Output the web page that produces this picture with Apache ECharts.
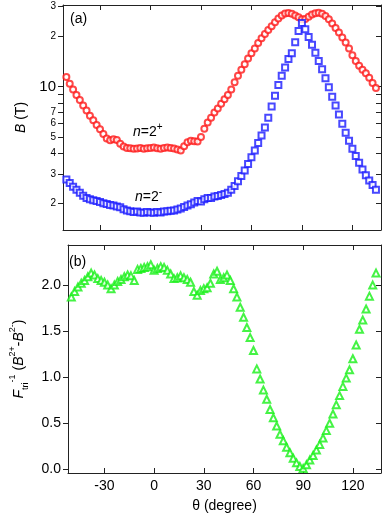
<!DOCTYPE html>
<html>
<head>
<meta charset="utf-8">
<script src="https://cdn.jsdelivr.net/npm/echarts@6/dist/echarts.min.js"></script>
<style>
  html, body { margin: 0; padding: 0; background: #fff; }
  #main { width: 382px; height: 518px; }
</style>
</head>
<body>
<div id="main"></div>
<script>
// angle (degree)
const theta = [-50, -48, -46, -44, -42, -40, -38, -36, -34, -32, -30, -28, -26, -24, -22, -20, -18, -16, -14, -12,
  -10, -8, -6, -4, -2, 0, 2, 4, 6, 8, 10, 12, 14, 16, 18, 20, 22, 24, 26, 28,
  30, 32, 34, 36, 38, 40, 42, 44, 46, 48, 50, 52, 54, 56, 58, 60, 62, 64, 66, 68,
  70, 72, 74, 76, 78, 80, 82, 84, 86, 88, 90, 92, 94, 96, 98, 100, 102, 104, 106, 108,
  110, 112, 114, 116, 118, 120, 122, 124, 126, 128, 130, 132, 134]

// n=2+ (T)
const bPlus = [11.4, 10.4, 9.6, 8.9, 8.3, 7.7, 7.2, 6.7, 6.3, 5.9, 5.55, 5.2, 4.9, 4.78, 4.85, 4.8, 4.55, 4.38, 4.3, 4.28,
  4.25, 4.27, 4.3, 4.25, 4.28, 4.3, 4.32, 4.28, 4.25, 4.3, 4.32, 4.3, 4.26, 4.2, 4.15, 4.4, 4.65, 4.75, 4.72, 4.7,
  5.0, 5.6, 6.1, 6.5, 7.0, 7.4, 7.9, 8.4, 8.9, 9.6, 10.6, 11.6, 12.6, 13.6, 14.7, 15.8, 16.9, 18.2, 19.4, 20.6,
  21.8, 22.9, 24.2, 25.5, 26.6, 27.3, 27.5, 27.2, 26.6, 25.9, 25.2, 25.3, 26.1, 26.9, 27.4, 27.6, 27.2, 26.4, 25.2, 23.8,
  22.4, 21.0, 19.6, 18.3, 16.9, 15.4, 14.2, 13.3, 12.6, 12.0, 11.3, 10.5, 9.8]

// n=2- (T)
const bMinus = [2.78, 2.65, 2.52, 2.42, 2.32, 2.23, 2.16, 2.12, 2.09, 2.07, 2.04, 2.01, 1.99, 1.96, 1.95, 1.92, 1.9, 1.85, 1.82, 1.8,
  1.78, 1.79, 1.77, 1.76, 1.78, 1.77, 1.76, 1.78, 1.77, 1.79, 1.8, 1.81, 1.82, 1.84, 1.87, 1.91, 1.95, 1.98, 2.03, 2.07,
  2.06, 2.12, 2.16, 2.16, 2.2, 2.22, 2.25, 2.28, 2.32, 2.42, 2.55, 2.72, 2.92, 3.15, 3.45, 3.78, 4.15, 4.6, 5.1, 5.7,
  6.5, 7.6, 8.8, 10.2, 11.6, 13.0, 14.6, 15.8, 18.4, 21.5, 24.0, 22.0, 19.8, 17.8, 15.9, 14.2, 12.7, 11.2, 9.9, 8.7,
  7.7, 6.8, 6.0, 5.3, 4.75, 4.25, 3.85, 3.5, 3.2, 2.95, 2.75, 2.58, 2.42]

// F_tri^-1 (B2+ - B2-)
const fTri = [1.87, 1.93, 1.98, 2.02, 2.05, 2.09, 2.13, 2.11, 2.07, 2.05, 2.03, 2.0, 1.96, 2.0, 2.04, 2.06, 2.09, 2.11, 2.1, 2.05,
  2.17, 2.18, 2.19, 2.2, 2.22, 2.16, 2.18, 2.2, 2.19, 2.16, 2.12, 2.07, 2.08, 2.1, 2.08, 2.06, 2.03, 1.93, 1.89, 1.94,
  1.96, 1.97, 2.02, 2.12, 2.15, 2.06, 2.08, 2.11, 2.05, 1.96, 1.87, 1.76, 1.65, 1.54, 1.43, 1.29, 1.09, 0.98, 0.86, 0.76,
  0.65, 0.56, 0.47, 0.38, 0.31, 0.24, 0.18, 0.12, 0.07, 0.03, 0.01, 0.05, 0.1, 0.15, 0.21, 0.27, 0.34, 0.42, 0.5, 0.6,
  0.7, 0.8, 0.9, 0.99, 1.08, 1.2, 1.35, 1.52, 1.62, 1.74, 1.88, 2.0, 2.13]

const xTicks = [-30, 0, 30, 60, 90, 120]
const bTicks = [2, 3, 4, 5, 6, 7, 8, 9, 10, 20, 30]
const bLabels = [2, 3, 4, 5, 6, 7, 10, 20, 30]
const fTicks = [0, 0.5, 1, 1.5, 2]

const font = 'Liberation Sans'
const frame = { show: true, onZero: false, lineStyle: { color: '#222', width: 1 } }

function xAxisOf(grid, position, showLabel) {
  return {
    type: 'value',
    gridIndex: grid,
    position: position,
    min: -52,
    max: 137,
    axisLine: frame,
    axisTick: { show: true, inside: true, length: 5, customValues: xTicks, lineStyle: { color: '#222' } },
    axisLabel: { show: showLabel, customValues: xTicks, margin: 6, color: '#000', fontSize: 14, fontFamily: font },
    splitLine: { show: false }
  }
}

const chart = echarts.init(document.getElementById('main'))
chart.setOption({
  animation: false,
  backgroundColor: '#fff',
  grid: [
    { left: 63, top: 5, width: 318, height: 225 },
    { left: 63, top: 245, width: 318, height: 228 }
  ],
  xAxis: [
    xAxisOf(0, 'bottom', false),
    xAxisOf(0, 'top', false),
    Object.assign(xAxisOf(1, 'bottom', true), {
      name: 'θ (degree)',
      nameLocation: 'middle',
      nameGap: 26,
      nameTextStyle: { color: '#000', fontSize: 14, fontFamily: font }
    }),
    xAxisOf(1, 'top', false)
  ],
  yAxis: [
    {
      type: 'log',
      logBase: 10,
      gridIndex: 0,
      position: 'left',
      min: 1.39,
      max: 30.7,
      name: '{i|B} (T)',
      nameLocation: 'middle',
      nameGap: 31,
      nameTextStyle: {
        color: '#000', fontSize: 14, fontFamily: font,
        rich: { i: { fontStyle: 'italic', fontSize: 14, fontFamily: font, color: '#000' } }
      },
      axisLine: frame,
      axisTick: { show: true, inside: false, length: 5, customValues: bTicks, lineStyle: { color: '#222' } },
      axisLabel: {
        customValues: bLabels,
        margin: 7,
        color: '#000',
        fontSize: 10,
        fontFamily: font,
        formatter: function(v) {
          if (Math.abs(v - 10) < 0.01) return '{big|10}'
          if (v > 10) return String(Math.round(v / 10))
          return String(Math.round(v))
        },
        rich: { big: { fontSize: 15, fontFamily: font, color: '#000' } }
      },
      splitLine: { show: false }
    },
    {
      type: 'log',
      logBase: 10,
      gridIndex: 0,
      position: 'right',
      min: 1.39,
      max: 30.7,
      axisLine: frame,
      axisTick: { show: true, inside: true, length: 5, customValues: bTicks, lineStyle: { color: '#222' } },
      axisLabel: { show: false },
      splitLine: { show: false }
    },
    {
      type: 'value',
      gridIndex: 1,
      position: 'left',
      min: -0.04,
      max: 2.435,
      name: '{i|F}{sub|tri}{sup|-1} ({i|B}{sup|2+}-{i|B}{sup|2-})',
      nameLocation: 'middle',
      nameGap: 38,
      nameTextStyle: {
        color: '#000', fontSize: 14, fontFamily: font, lineHeight: 22,
        rich: {
          i: { fontStyle: 'italic', fontSize: 14, fontFamily: font, color: '#000', lineHeight: 22 },
          sub: { fontSize: 9, fontFamily: font, color: '#000', verticalAlign: 'bottom', lineHeight: 12 },
          sup: { fontSize: 9, fontFamily: font, color: '#000', verticalAlign: 'top', lineHeight: 12 }
        }
      },
      axisLine: frame,
      axisTick: { show: true, inside: false, length: 5, customValues: fTicks, lineStyle: { color: '#222' } },
      axisLabel: {
        customValues: fTicks,
        margin: 7,
        color: '#000',
        fontSize: 14,
        fontFamily: font,
        formatter: v => v.toFixed(1)
      },
      splitLine: { show: false }
    },
    {
      type: 'value',
      gridIndex: 1,
      position: 'right',
      min: -0.04,
      max: 2.435,
      axisLine: frame,
      axisTick: { show: true, inside: true, length: 5, customValues: fTicks, lineStyle: { color: '#222' } },
      axisLabel: { show: false },
      splitLine: { show: false }
    }
  ],
  series: [
    {
      name: 'n=2+',
      type: 'scatter',
      xAxisIndex: 0,
      yAxisIndex: 0,
      symbol: 'emptyCircle',
      symbolSize: 6,
      itemStyle: { color: '#ff1a1a', borderWidth: 1 },
      data: theta.map((t, i) => [t, bPlus[i]])
    },
    {
      name: 'n=2-',
      type: 'scatter',
      xAxisIndex: 0,
      yAxisIndex: 0,
      symbol: 'emptyRect',
      symbolSize: 6,
      itemStyle: { color: '#1a1aff', borderWidth: 1 },
      data: theta.map((t, i) => [t, bMinus[i]])
    },
    {
      name: 'F',
      type: 'scatter',
      xAxisIndex: 2,
      yAxisIndex: 2,
      symbol: 'emptyTriangle',
      symbolSize: 7,
      itemStyle: { color: '#16f016', borderWidth: 1 },
      data: theta.map((t, i) => [t, fTri[i]])
    }
  ],
  graphic: [
    { type: 'text', left: 70, top: 12, style: { text: '(a)', fontSize: 14, fontFamily: font, fill: '#000' } },
    { type: 'text', left: 69, top: 255, style: { text: '(b)', fontSize: 14, fontFamily: font, fill: '#000' } },
    {
      type: 'text', left: 133, top: 122,
      style: {
        text: '{i|n}=2{sup|+}', fontSize: 14, fontFamily: font, fill: '#000', lineHeight: 20,
        rich: {
          i: { fontStyle: 'italic', fontSize: 14, fontFamily: font, fill: '#000', lineHeight: 20 },
          sup: { fontSize: 10, fontFamily: font, fill: '#000', verticalAlign: 'top', lineHeight: 10 }
        }
      }
    },
    {
      type: 'text', left: 135, top: 187,
      style: {
        text: '{i|n}=2{sup|-}', fontSize: 14, fontFamily: font, fill: '#000', lineHeight: 20,
        rich: {
          i: { fontStyle: 'italic', fontSize: 14, fontFamily: font, fill: '#000', lineHeight: 20 },
          sup: { fontSize: 10, fontFamily: font, fill: '#000', verticalAlign: 'top', lineHeight: 10 }
        }
      }
    }
  ]
})
</script>
</body>
</html>
